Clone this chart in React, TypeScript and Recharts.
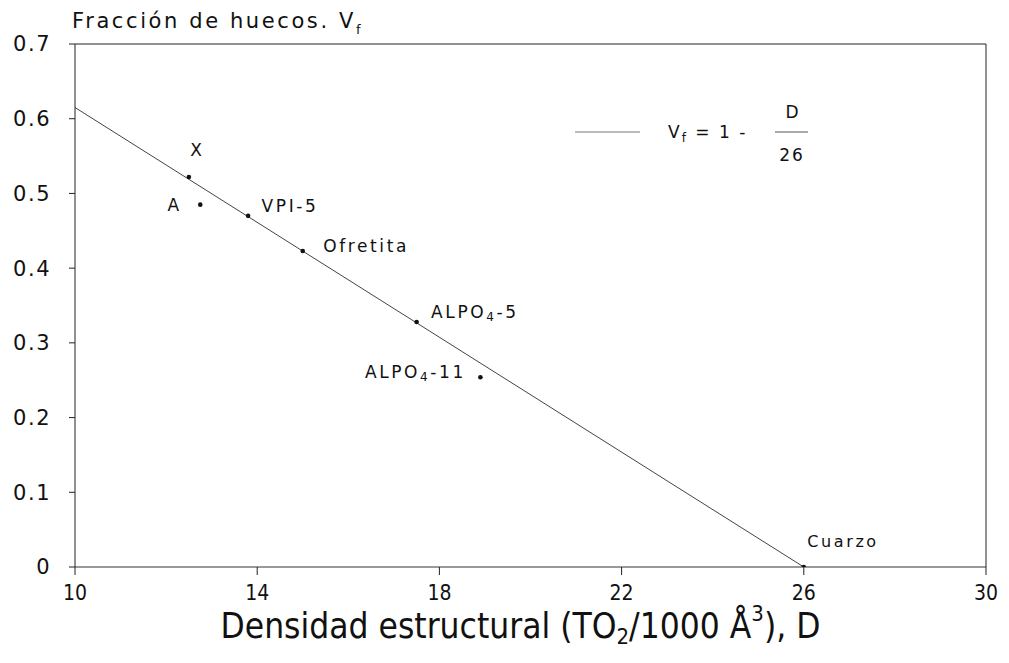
import React from 'react';
import {
  ComposedChart,
  Line,
  Scatter,
  XAxis,
  YAxis,
  ReferenceLine,
  LabelList,
} from 'recharts';

// Muestras: densidad estructural D y fracción de huecos Vf
const sampleNames = ['X', 'A', 'VPI-5', 'Ofretita', 'ALPO4-5', 'ALPO4-11', 'Cuarzo'];
const sampleD = [12.5, 12.75, 13.8, 15.0, 17.5, 18.9, 26.0];
const sampleV = [0.522, 0.485, 0.47, 0.423, 0.328, 0.254, 0.0];

// Recta Vf = 1 - D/26 (extremos)
const fitD = [10, 26];
const fitV = [0.615, 0];

const xTicks = [10, 14, 18, 22, 26, 30];
const yTicks = [0, 0.1, 0.2, 0.3, 0.4, 0.5, 0.6, 0.7];

const W = 1009;
const H = 663;

const WIDE = "'DejaVu Sans', 'Liberation Sans', sans-serif";
const NARROW = "'Liberation Sans Narrow', 'DejaVu Sans Condensed', sans-serif";

const points = sampleNames.map((name, i) => ({ name, d: sampleD[i], v: sampleV[i] }));
const fitLine = fitD.map((d, i) => ({ d, v: fitV[i] }));

// where each label sits relative to its dot
const labelPlacement: Record<string, { dx: number; dy: number; anchor: 'start' | 'middle' | 'end'; size?: number }> = {
  X: { dx: 13, dy: -22, anchor: 'middle' },
  A: { dx: -14, dy: 5, anchor: 'end' },
  'VPI-5': { dx: 18, dy: -5, anchor: 'start' },
  Ofretita: { dx: 25, dy: 0, anchor: 'start' },
  'ALPO4-5': { dx: 19, dy: -5, anchor: 'start' },
  'ALPO4-11': { dx: -10, dy: -1, anchor: 'end' },
  Cuarzo: { dx: 8, dy: -21, anchor: 'start', size: 16 },
};

const PointLabel = (props: any) => {
  const { x, y, value } = props;
  const p = labelPlacement[value];
  if (!p) return null;
  const common = {
    x: x + p.dx,
    y: y + p.dy,
    textAnchor: p.anchor,
    dominantBaseline: 'central' as const,
    fontFamily: WIDE,
    fontSize: p.size ?? 17,
    letterSpacing: 2.6,
    fill: '#111',
  };
  if (value.startsWith('ALPO4')) {
    const rest = value.slice(5);
    return (
      <text {...common}>
        ALPO
        <tspan fontSize={12} dy={5}>4</tspan>
        <tspan dy={-5}>{rest}</tspan>
      </text>
    );
  }
  return <text {...common}>{value}</text>;
};

const Dot = (props: any) => {
  const { cx, cy } = props;
  return <circle cx={cx} cy={cy} r={2.3} fill="#111" />;
};

const XLabel = (props: any) => {
  const vb = props.viewBox || {};
  const cx = vb.x + vb.width / 2;
  return (
    <text
      x={cx - 10}
      y={626}
      textAnchor="middle"
      dominantBaseline="central"
      fontFamily={NARROW}
      fontSize={35}
      fill="#111"
    >
      Densidad estructural (TO
      <tspan fontSize={22} dy={10}>2</tspan>
      <tspan dy={-10}>/1000 Å</tspan>
      <tspan fontSize={22} dy={-13}>3</tspan>
      <tspan dy={13}>), D</tspan>
    </text>
  );
};

export default function App() {
  return (
    <div style={{ position: 'absolute', left: 0, top: 0, width: W, height: H, background: '#fff' }}>
      <ComposedChart width={W} height={H} margin={{ top: 44, right: 23, bottom: 0, left: 0 }}>
        <XAxis
          type="number"
          dataKey="d"
          domain={[10, 30]}
          ticks={xTicks}
          allowDataOverflow
          height={96}
          tickSize={8}
          tickMargin={10}
          axisLine={{ stroke: '#333' }}
          tickLine={{ stroke: '#222' }}
          tick={{ fill: '#111', fontSize: 21, fontFamily: NARROW }}
          label={<XLabel />}
        />
        <YAxis
          type="number"
          dataKey="v"
          domain={[0, 0.7]}
          ticks={yTicks}
          allowDataOverflow
          width={75}
          tickSize={6}
          tickMargin={18}
          axisLine={{ stroke: '#222' }}
          tickLine={{ stroke: '#222' }}
          tick={{ fill: '#111', fontSize: 21, fontFamily: WIDE, letterSpacing: 1.5 }}
          tickFormatter={(v: number) => (v === 0 ? '0' : v.toFixed(1))}
        />
        <ReferenceLine y={0.7} stroke="#222" />
        <ReferenceLine x={30} stroke="#222" />
        <Line
          data={fitLine}
          dataKey="v"
          stroke="#444"
          strokeWidth={1}
          dot={false}
          activeDot={false}
          isAnimationActive={false}
        />
        <Scatter data={points} dataKey="v" shape={<Dot />} isAnimationActive={false}>
          <LabelList dataKey="name" content={<PointLabel />} />
        </Scatter>
      </ComposedChart>

      <svg
        width={W}
        height={H}
        style={{ position: 'absolute', left: 0, top: 0, pointerEvents: 'none' }}
      >
        <text x={72} y={28} fontFamily={WIDE} fontSize={21} letterSpacing={2.6} fill="#111">
          Fracción de huecos. V
          <tspan fontSize={13} dy={6}>f</tspan>
        </text>

        <line x1={575} x2={640} y1={132} y2={132} stroke="#777" strokeWidth={1} />
        <text x={668} y={132} dominantBaseline="central" fontFamily={WIDE} fontSize={17} letterSpacing={2} fill="#111">
          V<tspan fontSize={12} dy={6}>f</tspan>
          <tspan dy={-6}> = 1 -</tspan>
        </text>
        <line x1={775} x2={808} y1={132} y2={132} stroke="#555" strokeWidth={1} />
        <text x={792} y={112} textAnchor="middle" dominantBaseline="central" fontFamily={WIDE} fontSize={17} fill="#111">
          D
        </text>
        <text x={792} y={155} textAnchor="middle" dominantBaseline="central" fontFamily={WIDE} fontSize={17} letterSpacing={2} fill="#111">
          26
        </text>
      </svg>
    </div>
  );
}
